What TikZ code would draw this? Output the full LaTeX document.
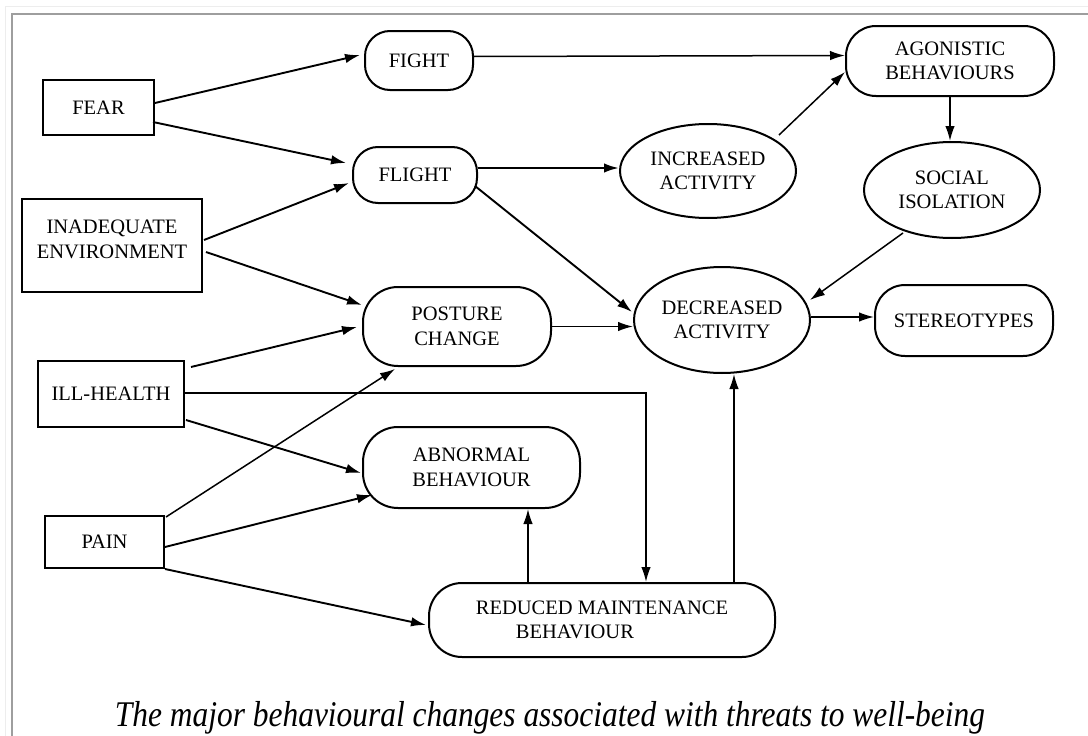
\documentclass[tikz,border=0pt]{standalone}
\usepackage{fontspec}
\setmainfont{Liberation Serif}
\usetikzlibrary{shapes.geometric,arrows.meta,calc}
\newcommand\dgfont{\fontsize{20.5}{24.5}\selectfont}
\begin{document}
\begin{tikzpicture}[x=1pt,y=-1pt,
  box/.style={draw, line width=2pt, rectangle, inner sep=0pt, align=center, font=\dgfont},
  rbox/.style={box, rounded corners=#1},
  ell/.style={draw, line width=2pt, ellipse, inner sep=0pt, align=center, font=\dgfont},
  arr/.style={-{Latex[length=15pt,width=9.5pt]}, line width=1.9pt},
  thinarr/.style={arr, line width=1.5pt},
  frameA/.style={line width=1.2pt, color=black!7},
  frameB/.style={line width=2pt, color=black!38},
]
\fill[white] (0,0) rectangle (1088,736);
\useasboundingbox (0,0) rectangle (1088,736);
\draw[frameA] (5.5,736) -- (5.5,6.5) -- (1088,6.5);
\draw[frameB] (11.5,736) -- (11.5,13.5) -- (1088,13.5);

% nodes
\node[box, minimum width=111pt, minimum height=55pt] (fear) at (98.5,107.5) {FEAR};
\node[box, minimum width=180pt, minimum height=93pt] (inad) at (112,245.5)
  {\parbox[c][93pt][t]{170pt}{\vspace*{21pt}\centering INADEQUATE\\ENVIRONMENT}};
\node[box, minimum width=146pt, minimum height=66pt] (ill) at (111,394) {ILL-HEALTH};
\node[box, minimum width=119pt, minimum height=52pt] (pain) at (104.5,542) {PAIN};

\node[rbox=25pt, minimum width=108pt, minimum height=59pt] (fight) at (419,60.5) {FIGHT};
\node[rbox=25pt, minimum width=124pt, minimum height=56pt] (flight) at (415,175) {FLIGHT};
\node[rbox=35pt, minimum width=188pt, minimum height=79pt] (post) at (457,326.5) {POSTURE\\CHANGE};
\node[rbox=35pt, minimum width=217pt, minimum height=81pt] (abn) at (471.5,467.5) {ABNORMAL\\BEHAVIOUR};
\node[rbox=33pt, minimum width=346pt, minimum height=74pt, align=left] (red) at (602,620)
  {REDUCED MAINTENANCE\\\hspace*{40pt}BEHAVIOUR};
\node[rbox=30pt, minimum width=208pt, minimum height=70pt] (ago) at (950,61) {AGONISTIC\\BEHAVIOURS};
\node[rbox=30pt, minimum width=178pt, minimum height=71pt] (ster) at (964,320.5) {STEREOTYPES};

\node[ell, minimum width=176pt, minimum height=94pt] (inc) at (708,171) {INCREASED\\ACTIVITY};
\node[ell, minimum width=176pt, minimum height=96pt] (soc) at (952,190) {SOCIAL\\ISOLATION};
\node[ell, minimum width=176pt, minimum height=106pt] (dec) at (722,320) {DECREASED\\ACTIVITY};

% connectors
\draw[arr] ($(fear.east)+(0,-4.5)$) -- ($(fight.west)+(-4,-5.5)$);
\draw[arr] ($(fear.east)+(-2,14.5)$) -- ($(flight.west)+(-6,-12)$);
\draw[arr] ($(inad.east)+(1,-5.5)$) -- ($(flight.west)+(-3,8)$);
\draw[arr] ($(inad.east)+(3,6.5)$) -- ($(post.west)+(0,-21.5)$);
\draw[arr] ($(ill.north east)+(6,7)$) -- ($(post.west)+(-5,0.5)$);
\draw[thinarr] ($(ill.east)+(0,-1)$) -| ($(red.north)+(44,0)$);
\draw[arr] ($(ill.east)+(1,26)$) -- ($(abn.west)+(-1,5.5)$);
\draw[thinarr] ($(pain.north east)+(1,2)$) -- ($(post.south)+(-62,2)$);
\draw[arr] ($(pain.east)+(0,5)$) -- ($(abn.west)+(10,27.5)$);
\draw[arr] (pain.south east) -- ($(red.west)+(-2,5)$);
\draw[thinarr] ($(red.north)+(-74,0)$) coordinate (r1) -- (r1 |- abn.south);
\draw[thinarr] ($(red.north)+(132,0)$) coordinate (r2) -- (r2 |- dec.south);
\draw[arr, line width=2.3pt] ($(flight.east)+(0,-7)$) coordinate (f1) -- (f1 -| inc.west);
\draw[arr] ($(flight.east)+(-3,11)$) -- ($(dec.west)+(-1,-8)$);
\draw[thinarr] (post.east) -- (post.east -| dec.west);
\draw[thinarr] ($(fight.east)+(0,-4)$) -- ($(ago.west)+(0,-5.5)$);
\draw[thinarr] ($(inc.center)+(71,-36)$) -- ($(ago.west)+(0,11)$);
\draw[thinarr] (ago.south) -- (ago.south |- soc.north);
\draw[thinarr] ($(soc.center)+(-49,43)$) -- ($(dec.center)+(88,-20)$);
\draw[thinarr] ($(dec.east)+(0,-3)$) coordinate (d1) -- (d1 -| ster.west);

% caption
\node[anchor=base, inner sep=0pt] (cap) at (550,726)
  {\scalebox{1}[1.15]{\resizebox{870pt}{!}{\fontsize{30}{36}\selectfont\itshape The major behavioural changes associated with threats to well-being}}};
\end{tikzpicture}
\end{document}
